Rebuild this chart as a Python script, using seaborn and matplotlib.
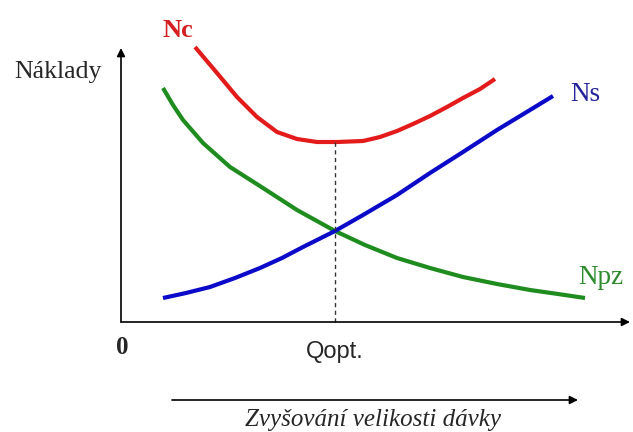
import seaborn as sns
import matplotlib.pyplot as plt
import pandas as pd

# hodnoty (libovolné jednotky)
nc_x = [1.48, 1.92, 2.32, 2.72, 3.12, 3.52, 3.92, 4.32, 4.84, 5.18, 5.52, 5.84, 6.18, 6.52, 6.84, 7.18, 7.48]
nc_y = [5.5, 4.98, 4.5, 4.1, 3.8, 3.66, 3.6, 3.6, 3.62, 3.7, 3.82, 3.96, 4.12, 4.3, 4.48, 4.66, 4.86]

npz_x = [0.84, 1.04, 1.24, 1.64, 2.18, 2.84, 3.52, 4.28, 4.88, 5.52, 6.18, 6.84, 7.52, 8.18, 8.74, 9.28]
npz_y = [4.68, 4.34, 4.04, 3.58, 3.1, 2.68, 2.24, 1.82, 1.54, 1.28, 1.08, 0.9, 0.76, 0.64, 0.56, 0.48]

ns_x = [0.84, 1.3, 1.78, 2.28, 2.78, 3.22, 3.64, 4.28, 4.84, 5.52, 6.18, 6.84, 7.52, 8.18, 8.64]
ns_y = [0.48, 0.58, 0.7, 0.88, 1.08, 1.28, 1.5, 1.82, 2.14, 2.54, 2.98, 3.4, 3.84, 4.24, 4.52]

q_opt = 4.28
nc_min = 3.6

df = pd.concat([
    pd.DataFrame({'x': nc_x, 'y': nc_y, 'krivka': 'Nc'}),
    pd.DataFrame({'x': npz_x, 'y': npz_y, 'krivka': 'Npz'}),
    pd.DataFrame({'x': ns_x, 'y': ns_y, 'krivka': 'Ns'}),
])
barvy = {'Nc': '#e31b1b', 'Npz': '#1e8c1e', 'Ns': '#0a0ac8'}

sns.set_style('white')
plt.rcParams['font.family'] = ['Liberation Serif', 'DejaVu Serif']

fig = plt.figure(figsize=(6.33, 4.32), dpi=100)
ax = fig.add_axes([0, 0, 1, 1])
sns.lineplot(data=df, x='x', y='y', hue='krivka', palette=barvy,
             sort=False, estimator=None, linewidth=3, legend=False, ax=ax)
for ln in ax.lines:
    ln.set_solid_joinstyle('round')
    ln.set_solid_capstyle('butt')
ax.set_xlim(-2.42, 10.24)
ax.set_ylim(-2.2, 6.44)
ax.axis('off')

# osy se šipkami
sipka = dict(arrowstyle='-|>', color='black', lw=1.2, mutation_scale=12,
             shrinkA=0, shrinkB=0)
ax.annotate('', xy=(0, 5.48), xytext=(0, 0), arrowprops=sipka)
ax.annotate('', xy=(10.18, 0), xytext=(0, 0), arrowprops=sipka)
ax.annotate('', xy=(9.14, -1.56), xytext=(1.02, -1.56), arrowprops=sipka)

ax.vlines(q_opt, 0, nc_min, colors='#333333', linestyles=(0, (3, 2.5)), lw=1)

ax.text(1.14, 5.84, 'Nc', color='#d42020', fontsize=19, fontweight='bold',
        ha='center', va='center')
ax.text(-1.26, 5.0, 'Náklady', fontsize=18.5, ha='center', va='center')
ax.text(9.28, 4.56, 'Ns', color='#22229a', fontsize=19.5, ha='center', va='center')
ax.text(9.6, 0.88, 'Npz', color='#2d8b2d', fontsize=19.5, ha='center', va='center')
ax.text(0.02, -0.5, '0', fontsize=18, fontweight='bold', ha='center', va='center')
ax.text(q_opt, -0.6, 'Qopt.', fontsize=17, family=['Liberation Sans', 'DejaVu Sans'],
        ha='center', va='center')
ax.text(5.04, -1.96, 'Zvyšování velikosti dávky', fontsize=18, style='italic',
        ha='center', va='center')

fig.savefig('out.png', dpi=100)
